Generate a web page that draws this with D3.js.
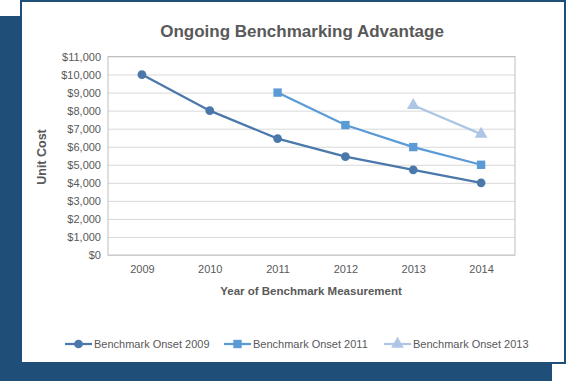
<!DOCTYPE html>
<meta charset="utf-8">
<style type="text/css">
    body { margin: 0; background: #fff; }
    text { font-family: "Liberation Sans", Arial, sans-serif; fill: #595959; }
    .grid line { stroke: #d9d9d9; }
    .grid path { display: none; }
    .axis path, .axis line { display: none; }
    .title { font-size: 17px; font-weight: bold; }
    .axis-title { font-size: 11.5px; font-weight: bold; }
</style>
<body>
</body>
<script src="https://cdn.jsdelivr.net/npm/d3@7"></script>
<script>
    // chart values
    var years = ["2009", "2010", "2011", "2012", "2013", "2014"];
    var onset2009 = [10000, 8000, 6450, 5450, 4720, 4000];
    var onset2011 = [null, null, 9000, 7200, 5980, 5000];
    var onset2013 = [null, null, null, null, 8300, 6700];
    var seriesNames = ["Benchmark Onset 2009", "Benchmark Onset 2011", "Benchmark Onset 2013"];
    var yTicks = d3.range(0, 11001, 1000);

    var colors = ["#4a78ab", "#5b9bd5", "#aec6e6"];
    var shapes = [d3.symbolCircle, d3.symbolSquare, d3.symbolTriangle];
    var allSeries = [onset2009, onset2011, onset2013];

    var W = 568, H = 383;
    var svg = d3.select("body").append("svg")
        .attr("width", W)
        .attr("height", H);

    // frame: dark block behind the white card
    svg.append("rect")
        .attr("x", 0).attr("y", 16)
        .attr("width", 552).attr("height", 365)
        .attr("fill", "#1f4e79");
    svg.append("rect")
        .attr("x", 21).attr("y", 1)
        .attr("width", 544).attr("height", 362)
        .attr("fill", "#fff")
        .attr("stroke", "#1f4e79")
        .attr("stroke-width", 2);

    var plot = {left: 108, right: 515, top: 56.5, bottom: 255};

    var x = d3.scalePoint()
        .domain(years)
        .range([plot.left, plot.right])
        .padding(0.5);

    var y = d3.scaleLinear()
        .domain([0, 11000])
        .range([plot.bottom, plot.top]);

    // gridlines
    svg.append("g")
        .attr("class", "grid")
        .attr("transform", "translate(" + plot.left + ",0)")
        .call(d3.axisLeft(y).tickValues(yTicks).tickSize(-(plot.right - plot.left)).tickFormat(""));

    // plot border
    svg.append("rect")
        .attr("x", plot.left).attr("y", plot.top)
        .attr("width", plot.right - plot.left)
        .attr("height", plot.bottom - plot.top)
        .attr("fill", "none")
        .attr("stroke", "#bfbfbf");

    // y axis labels
    var fmt = function(d) { return "$" + d3.format(",")(d); };
    var ya = svg.append("g")
        .attr("class", "axis")
        .attr("transform", "translate(" + (plot.left - 7) + ",0)")
        .call(d3.axisLeft(y).tickValues(yTicks).tickSize(0).tickPadding(0).tickFormat(fmt));
    ya.selectAll("text").style("font-size", "11px").attr("fill", "#595959");

    // x axis labels
    var xa = svg.append("g")
        .attr("class", "axis")
        .attr("transform", "translate(0," + plot.bottom + ")")
        .call(d3.axisBottom(x).tickSize(0).tickPadding(10));
    xa.selectAll("text").style("font-size", "11px").attr("fill", "#595959");

    // titles
    svg.append("text")
        .attr("class", "title")
        .attr("x", 302).attr("y", 37)
        .attr("text-anchor", "middle")
        .text("Ongoing Benchmarking Advantage");

    svg.append("text")
        .attr("class", "axis-title")
        .attr("x", 311).attr("y", 295)
        .attr("text-anchor", "middle")
        .text("Year of Benchmark Measurement");

    svg.append("text")
        .attr("class", "axis-title")
        .style("font-size", "12.5px")
        .attr("transform", "translate(46,157) rotate(-90)")
        .attr("text-anchor", "middle")
        .text("Unit Cost");

    // lines and markers
    var line = d3.line()
        .defined(function(d) { return d != null; })
        .x(function(d, i) { return x(years[i]); })
        .y(function(d) { return y(d); });

    var markerSize = [60, 70, 70];

    allSeries.forEach(function(vals, s) {
        svg.append("path")
            .datum(vals)
            .attr("fill", "none")
            .attr("stroke", colors[s])
            .attr("stroke-width", 2.25)
            .attr("d", line);

        var pts = vals.map(function(v, i) { return {v: v, i: i}; })
            .filter(function(d) { return d.v != null; });

        svg.selectAll(".m" + s)
            .data(pts)
            .enter().append("path")
            .attr("class", "m" + s)
            .attr("transform", function(d) { return "translate(" + x(years[d.i]) + "," + y(d.v) + ")"; })
            .attr("d", d3.symbol().type(shapes[s]).size(markerSize[s]))
            .attr("fill", colors[s]);
    });

    // legend
    var legX = [65, 224, 384];
    var legY = 344;
    seriesNames.forEach(function(name, s) {
        var g = svg.append("g").attr("transform", "translate(" + legX[s] + "," + legY + ")");
        g.append("line")
            .attr("x1", 0).attr("x2", 27)
            .attr("stroke", colors[s])
            .attr("stroke-width", 2.25);
        g.append("path")
            .attr("transform", "translate(13.5,0)")
            .attr("d", d3.symbol().type(shapes[s]).size(markerSize[s]))
            .attr("fill", colors[s]);
        g.append("text")
            .attr("x", 29).attr("y", 4)
            .style("font-size", "11px")
            .text(name);
    });
</script>
